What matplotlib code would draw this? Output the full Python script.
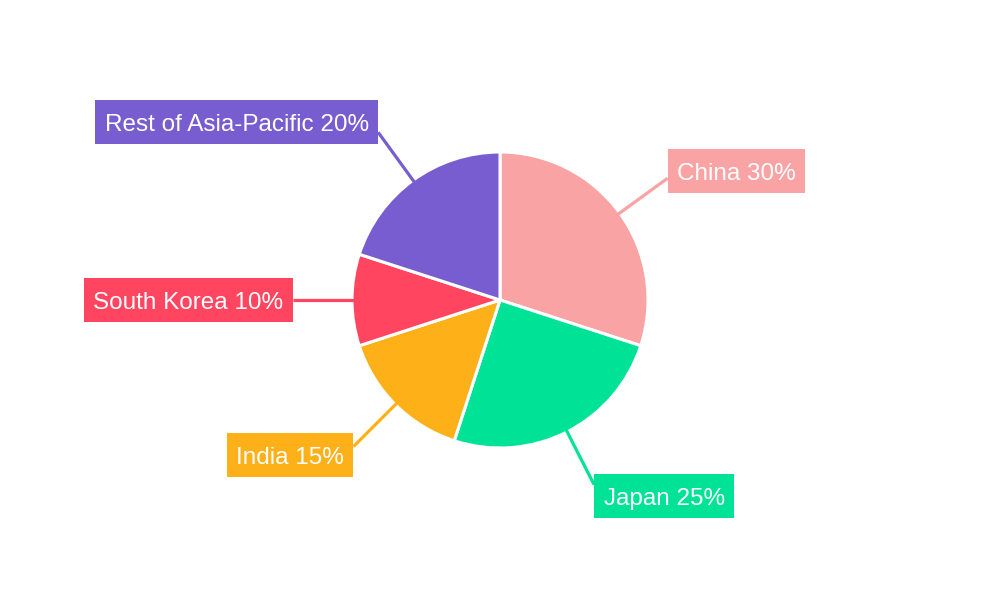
import numpy as np
import matplotlib.pyplot as plt
from matplotlib.patches import Rectangle

labels = ['China', 'Japan', 'India', 'South Korea', 'Rest of Asia-Pacific']
shares = [30, 25, 15, 10, 20]
colors = ['#F9A3A4', '#00E396', '#FEB019', '#FF4560', '#775DD0']

plt.rcParams['font.family'] = ['Liberation Sans', 'DejaVu Sans']

fig = plt.figure(figsize=(10, 6), dpi=100)
ax = fig.add_axes([0, 0, 1, 1])
r_px = 148

wedges, _ = ax.pie(shares, colors=colors, startangle=90, counterclock=False,
                   wedgeprops=dict(edgecolor='white', linewidth=2.2))
ax.set_xlim(-500 / r_px, 500 / r_px)
ax.set_ylim(-300 / r_px, 300 / r_px)
ax.set_aspect('equal')
ax.axis('off')

pad_x, pad_y, shift = 9.5, 11, 3  # box padding / text drop, pixels
texts = []
for w, lab, val, col in zip(wedges, labels, shares, colors):
    ang = np.deg2rad((w.theta1 + w.theta2) / 2)
    x, y = np.cos(ang), np.sin(ang)
    x_end, y_end = 1.40 * x, 1.40 * y
    ax.plot([0.98 * x, x_end], [0.98 * y, y_end], color=col, lw=2.3,
            solid_capstyle='butt', zorder=2)
    side = 1 if x > 0.01 else -1
    t = ax.annotate(f'{lab} {val}%', xy=(x_end, 1.06 * y_end),
                    xytext=(side * pad_x * 0.72, -shift * 0.72),
                    textcoords='offset points',
                    ha='left' if side > 0 else 'right', va='center',
                    fontsize=17.5, color='white', zorder=4)
    texts.append((t, col))

fig.canvas.draw()
renderer = fig.canvas.get_renderer()
for t, col in texts:
    bb = t.get_window_extent(renderer)
    ax.add_patch(Rectangle((bb.x0 - pad_x, bb.y0 - pad_y + shift),
                           bb.width + 2 * pad_x, bb.height + 2 * pad_y,
                           transform=None, fc=col, ec='none', zorder=3))

fig.savefig('out.png', dpi=100)
